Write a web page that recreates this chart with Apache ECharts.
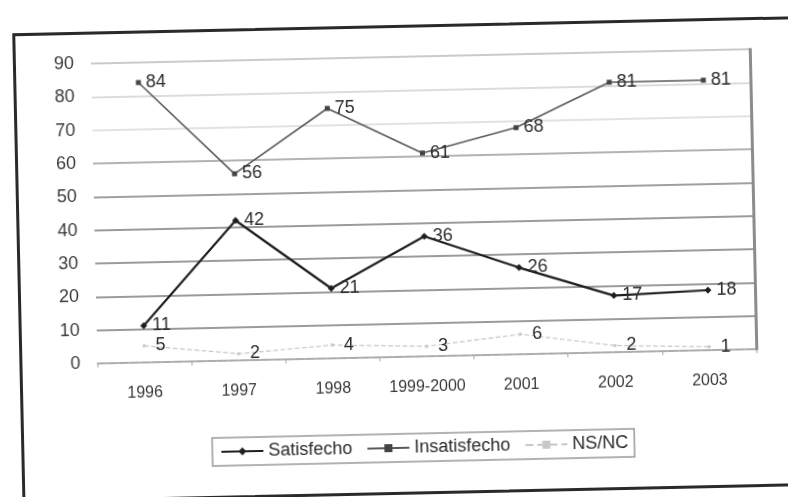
<!DOCTYPE html>
<html>
<head>
<meta charset="utf-8">
<script src="https://cdn.jsdelivr.net/npm/echarts@6/dist/echarts.min.js"></script>
<style>
  html, body { margin: 0; padding: 0; background: #fff; overflow: hidden; }
  #page { position: absolute; left: 0; top: 0; width: 788px; height: 497px;
          transform: rotate(-1.25deg); transform-origin: 394px 248px; }
  #frame { position: absolute; left: 17px; top: 25px; width: 820px; height: 470px;
           border: 3px solid #2a2a2a; box-sizing: border-box; }
  #chart { position: absolute; left: 0; top: 0; width: 788px; height: 497px; }
</style>
</head>
<body>
<div id="page">
  <div id="frame"></div>
  <div id="chart"></div>
</div>
<script>
// Survey results by year (%)
const years = ['1996', '1997', '1998', '1999-2000', '2001', '2002', '2003'];
const satisfecho = [11, 42, 21, 36, 26, 17, 18];
const insatisfecho = [84, 56, 75, 61, 68, 81, 81];
const nsnc = [5, 2, 4, 3, 6, 2, 1];
const yTicks = [0, 10, 20, 30, 40, 50, 60, 70, 80, 90];

const font = 'Liberation Sans, Arial, sans-serif';
const labelStyle = { show: true, position: 'right', distance: 5,
  fontFamily: font, fontSize: 18, color: '#2b2b2b' };

const chart = echarts.init(document.getElementById('chart'), null, { renderer: 'canvas' });
chart.setOption({
  animation: false,
  backgroundColor: 'transparent',
  grid: { left: 95, right: 34, top: 57, bottom: 140, containLabel: false },
  xAxis: {
    type: 'category',
    data: years,
    boundaryGap: true,
    axisLine: { show: true, lineStyle: { color: '#a8a8a8', width: 1.5, type: [8, 3] } },
    axisTick: { show: true, length: 4, lineStyle: { color: '#a8a8a8' } },
    axisLabel: { interval: 0, hideOverlap: false, margin: 23, fontFamily: font, fontSize: 16, color: '#3a3a3a' }
  },
  yAxis: [{
    type: 'value',
    min: yTicks[0],
    max: yTicks[yTicks.length - 1],
    interval: 10,
    axisLine: { show: false },
    axisTick: { show: false },
    axisLabel: { margin: 17, fontFamily: font, fontSize: 18, color: '#3a3a3a' },
    splitLine: { show: true, lineStyle: { width: 1.6,
      color: ['#a0a0a0', '#7a7a7a', '#7a7a7a', '#7a7a7a', '#7a7a7a', '#808080', '#9a9a9a', '#d8d8d8', '#d0d0d0', '#b8b8b8'] } }
  }, {
    type: 'value',
    position: 'right',
    min: yTicks[0],
    max: yTicks[yTicks.length - 1],
    interval: 10,
    axisLine: { show: true, lineStyle: { color: '#8c8c8c', width: 3 } },
    axisTick: { show: false },
    axisLabel: { show: false },
    splitLine: { show: false }
  }],
  legend: {
    bottom: 35,
    left: 208,
    data: ['Satisfecho', 'Insatisfecho', 'NS/NC'],
    itemWidth: 42,
    itemHeight: 10,
    itemGap: 14,
    padding: [5, 6, 5, 8],
    borderColor: '#9a9a9a',
    borderWidth: 1.5,
    textStyle: { fontFamily: font, fontSize: 18, color: '#2b2b2b' }
  },
  series: [{
    name: 'Satisfecho',
    type: 'line',
    data: satisfecho,
    symbol: 'diamond',
    symbolSize: 7,
    lineStyle: { color: '#1e1e1e', width: 2.2 },
    itemStyle: { color: '#1e1e1e' },
    label: labelStyle
  }, {
    name: 'Insatisfecho',
    type: 'line',
    data: insatisfecho,
    symbol: 'rect',
    symbolSize: 5,
    lineStyle: { color: '#5a5a5a', width: 1.6 },
    itemStyle: { color: '#444' },
    label: labelStyle
  }, {
    name: 'NS/NC',
    type: 'line',
    data: nsnc,
    symbol: 'rect',
    symbolSize: 3,
    lineStyle: { color: '#c8c8c8', width: 1.2, type: 'dashed' },
    itemStyle: { color: '#c8c8c8' },
    label: Object.assign({}, labelStyle, { distance: 10 })
  }]
});
</script>
</body>
</html>
